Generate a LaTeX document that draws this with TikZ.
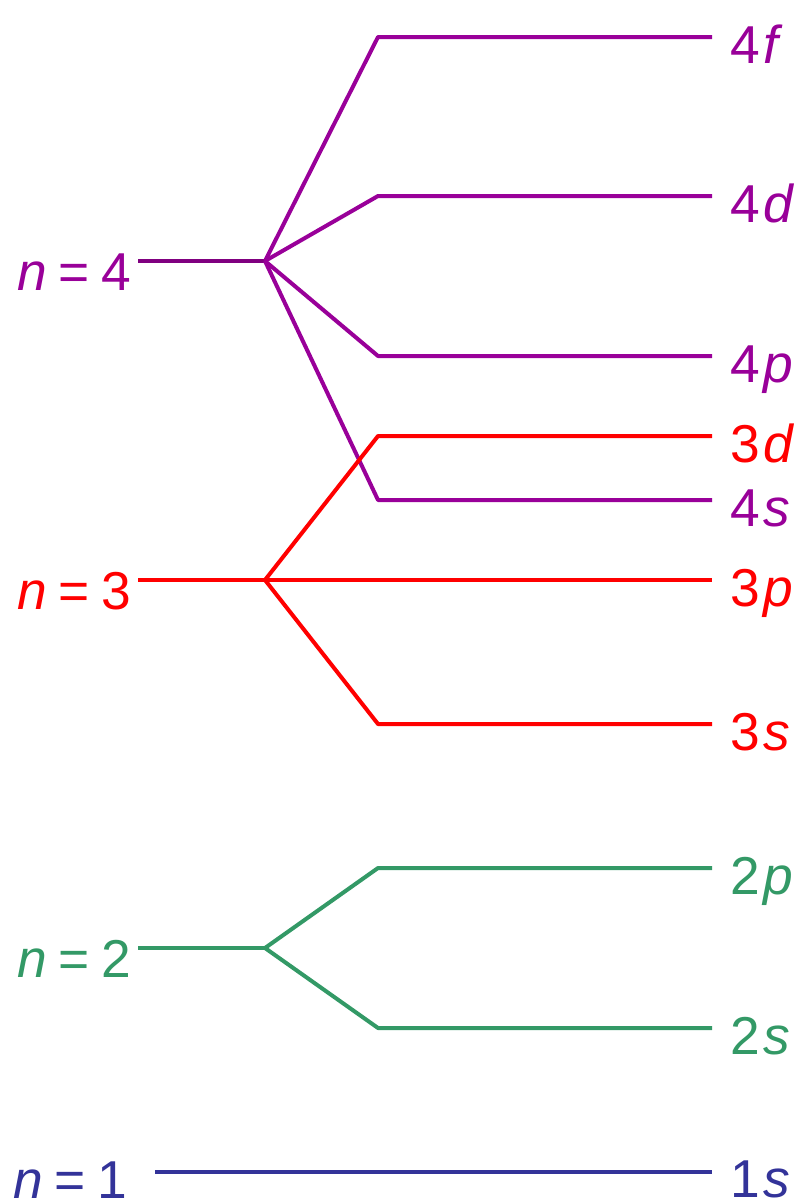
\documentclass[tikz,border=0pt]{standalone}
\usepackage{fontspec}
\setmainfont{Liberation Sans}
\definecolor{levelpurple}{HTML}{990099}
\definecolor{stempurple}{HTML}{800080}
\definecolor{levelred}{HTML}{FF0000}
\definecolor{levelgreen}{HTML}{339966}
\definecolor{levelblue}{HTML}{333399}
\newcommand{\shellname}[1]{\textit{n}\hspace{0.2em}=\hspace{0.22em}#1}
\newcommand{\subname}[2]{#1\hspace{0.06em}\textit{#2}}
\tikzset{
  level/.style={line width=3pt, line join=round},
  sublabel/.style={anchor=base west, inner sep=0pt, font=\fontsize{40}{40}\selectfont},
  shelllabel/.style={anchor=base east, inner sep=0pt, font=\fontsize{40}{40}\selectfont}
}
\begin{document}
\begin{tikzpicture}[x=0.75pt, y=-0.75pt]
    \useasboundingbox (0,0) rectangle (798,1203);
    % Coordinates
    \coordinate (S4) at (138, 261);
    \coordinate (B4) at (265, 261);
    \coordinate (F0) at (378, 37);
    \coordinate (F1) at (712, 37);
    \coordinate (D0) at (378, 196);
    \coordinate (D1) at (712, 196);
    \coordinate (P0) at (378, 356);
    \coordinate (P1) at (712, 356);
    \coordinate (Q0) at (378, 500);
    \coordinate (Q1) at (712, 500);
    \coordinate (S3) at (138, 580);
    \coordinate (B3) at (265, 580);
    \coordinate (TD0) at (378, 436);
    \coordinate (TD1) at (712, 436);
    \coordinate (TP1) at (712, 580);
    \coordinate (TS0) at (378, 724);
    \coordinate (TS1) at (712, 724);
    \coordinate (S2) at (138, 948);
    \coordinate (B2) at (265, 948);
    \coordinate (WP0) at (378, 868);
    \coordinate (WP1) at (712, 868);
    \coordinate (WS0) at (378, 1028);
    \coordinate (WS1) at (712, 1028);
    \coordinate (S1) at (155, 1172);
    \coordinate (O1) at (712, 1172);

    % Drawing
    \draw[level, stempurple] (S4) -- (B4);
    \draw[level, levelpurple] (B4) -- (F0) -- (F1);
    \draw[level, levelpurple] (B4) -- (D0) -- (D1);
    \draw[level, levelpurple] (B4) -- (P0) -- (P1);
    \draw[level, levelpurple] (B4) -- (Q0) -- (Q1);
    \draw[level, levelred] (S3) -- (B3);
    \draw[level, levelred] (B3) -- (TD0) -- (TD1);
    \draw[level, levelred] (B3) -- (TP1);
    \draw[level, levelred] (B3) -- (TS0) -- (TS1);
    \draw[level, levelgreen] (S2) -- (B2);
    \draw[level, levelgreen] (B2) -- (WP0) -- (WP1);
    \draw[level, levelgreen] (B2) -- (WS0) -- (WS1);
    \draw[level, levelblue] (S1) -- (O1);

    % Labels
    \node[shelllabel, levelpurple] (n4) at (131, 290) {\shellname{4}};
    \node[shelllabel, levelred] (n3) at (131, 609) {\shellname{3}};
    \node[shelllabel, levelgreen] (n2) at (131, 977) {\shellname{2}};
    \node[shelllabel, levelblue] (n1) at (127, 1198) {\shellname{1}};
    \node[sublabel, levelpurple] (l4f) at (730, 63) {\subname{4}{f}};
    \node[sublabel, levelpurple] (l4d) at (730, 222) {\subname{4}{d}};
    \node[sublabel, levelpurple] (l4p) at (730, 382) {\subname{4}{p}};
    \node[sublabel, levelpurple] (l4s) at (730, 526) {\subname{4}{s}};
    \node[sublabel, levelred] (l3d) at (730, 462) {\subname{3}{d}};
    \node[sublabel, levelred] (l3p) at (730, 606) {\subname{3}{p}};
    \node[sublabel, levelred] (l3s) at (730, 750) {\subname{3}{s}};
    \node[sublabel, levelgreen] (l2p) at (730, 894) {\subname{2}{p}};
    \node[sublabel, levelgreen] (l2s) at (730, 1054) {\subname{2}{s}};
    \node[sublabel, levelblue] (l1s) at (730, 1197) {\subname{1}{s}};
\end{tikzpicture}
\end{document}
